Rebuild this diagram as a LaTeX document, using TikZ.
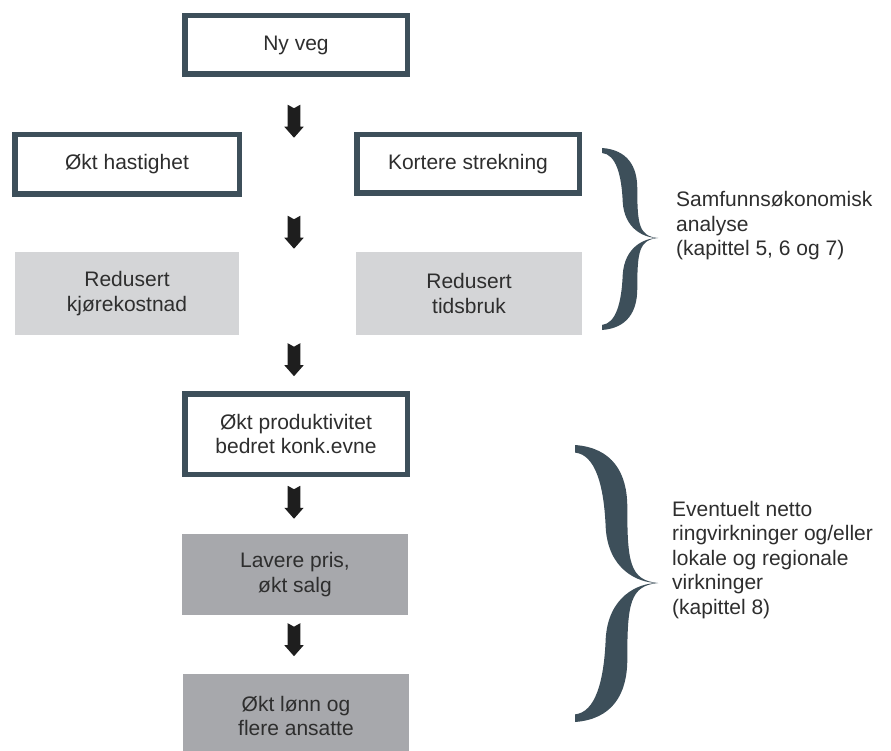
\documentclass[tikz,border=0pt]{standalone}
\usepackage{fontspec}
\setmainfont{Liberation Sans}
\usetikzlibrary{calc}
\definecolor{frame}{HTML}{3D4F5A}
\definecolor{lightfill}{HTML}{D4D5D7}
\definecolor{darkfill}{HTML}{A7A8AC}
\definecolor{arrowcol}{HTML}{1E1E1E}
\definecolor{txt}{HTML}{2E2E2E}
\begin{document}
\begin{tikzpicture}[x=1pt,y=-1pt,
  every node/.style={font=\fontsize{21}{24.5}\selectfont, text=txt, align=center, inner sep=0pt},
  outlined/.style={draw=frame, line width=5.5pt, fill=white},
  lightbox/.style={fill=lightfill},
  darkbox/.style={fill=darkfill},
  sidelabel/.style={align=left, anchor=west},
  blockarrow/.pic={\fill[arrowcol] (-6.3,0) -- (0,3.5) -- (6.3,0) -- (6.3,22) -- (9.7,22) -- (0,33) -- (-9.7,22) -- (-6.3,22) -- cycle;},
  bracehalf/.pic={\fill[frame] (0,0) .. controls (0.45,0.02) and (0.63,0.2) .. (0.63,0.45)
     .. controls (0.63,0.85) and (0.66,0.98) .. (1,1)
     .. controls (0.75,1.0) and (0.4,0.9) .. (0.37,0.6)
     .. controls (0.35,0.3) and (0.25,0.07) .. (0,0.055) -- cycle;},
]
\useasboundingbox (0,0) rectangle (891,751);

\node[outlined, minimum width=222.5pt, minimum height=58.5pt] (nyveg) at (296,45) {Ny veg};
\node[outlined, minimum width=224.5pt, minimum height=59.5pt] (hast) at (127,164.5) {Økt hastighet};
\node[outlined, minimum width=222.5pt, minimum height=58.5pt] (strek) at (468,164) {Kortere strekning};
\node[lightbox, minimum width=224pt, minimum height=83pt] (kjore) at (127,293.5) {Redusert\\kjørekostnad};
\node[lightbox, minimum width=226pt, minimum height=83pt] (tid) at (469,293.5) {Redusert\\tidsbruk};
\node[outlined, minimum width=222.5pt, minimum height=80.5pt] (prod) at (296,434) {Økt produktivitet\\bedret konk.evne};
\node[darkbox, minimum width=226pt, minimum height=81pt] (pris) at (295,574.5) {Lavere pris,\\økt salg};
\node[darkbox, minimum width=226pt, minimum height=84pt] (lonn) at (296,716) {Økt lønn og\\flere ansatte};

% block arrows
\pic at ($(nyveg.south)+(-2,27.75)$) {blockarrow};
\pic at ($(hast.south -| nyveg.south)+(-2,18.75)$) {blockarrow};
\pic at ($(kjore.south -| nyveg.south)+(-2,8)$) {blockarrow};
\pic at ($(prod.south)+(-2,8.75)$) {blockarrow};
\pic at ($(pris.south)+(-1,8)$) {blockarrow};

% braces
\pic[xscale=56, yscale=90] at (602,148) {bracehalf};
\pic[xscale=56, yscale=-92] at (602,330) {bracehalf};
\pic[xscale=83, yscale=138] at (575,445) {bracehalf};
\pic[xscale=83, yscale=-139] at (575,722) {bracehalf};

\node[sidelabel] (lab1) at (676,226) {Samfunnsøkonomisk\\analyse\\(kapittel 5, 6 og 7)};
\node[sidelabel] (lab2) at (672,560) {Eventuelt netto\\ringvirkninger og/eller\\lokale og regionale\\virkninger\\(kapittel 8)};
\end{tikzpicture}
\end{document}
